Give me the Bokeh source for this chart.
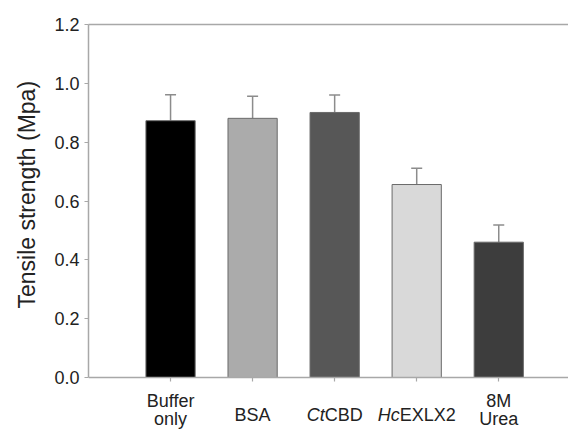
from bokeh.plotting import figure
from bokeh.models import (ColumnDataSource, Range1d, FixedTicker, LinearAxis,
                          NumeralTickFormatter, Whisker, TeeHead, Title)
from bokeh.core.properties import value
from bokeh.embed import file_html
from bokeh.resources import INLINE

# ---- data ----
categories = ["Buffer only", "BSA", "CtCBD", "HcEXLX2", "8M Urea"]
means = [0.873, 0.881, 0.901, 0.656, 0.460]
errors = [0.088, 0.075, 0.059, 0.055, 0.058]
bar_colors = ["#000000", "#ababab", "#575757", "#d9d9d9", "#3d3d3d"]
y_ticks = [0.0, 0.2, 0.4, 0.6, 0.8, 1.0, 1.2]
y_title = "Tensile strength (Mpa)"
# x label pieces per category: list of lines, each (italic part, normal part)
label_lines = [
    [("", "Buffer"), ("", "only")],
    [("", "BSA")],
    [("Ct", "CBD")],
    [("Hc", "EXLX2")],
    [("", "8M"), ("", "Urea")],
]

xs = list(range(len(categories)))
upper = [m + e for m, e in zip(means, errors)]
src = ColumnDataSource(dict(x=xs, top=means, upper=upper, color=bar_colors))

AX = "#a8a8a8"
TXT = "#222222"
FONT = "Liberation Sans"

W, H = 568, 429
LEFT, TOP = 87, 24
ZERO_PX = 377            # pixel row of y = 0
Y_MAX = 1.2
px_per_unit = (ZERO_PX - TOP) / Y_MAX
y_start = -(H - ZERO_PX) / px_per_unit

p = figure(width=W, height=H, output_backend="svg", toolbar_location=None,
           x_range=Range1d(-1.0, 4.85), y_range=Range1d(y_start, Y_MAX),
           min_border_left=LEFT, min_border_right=0, min_border_top=TOP,
           min_border_bottom=0, outline_line_color=None)
p.grid.visible = False

p.vbar(x="x", top="top", width=0.6, bottom=0, fill_color="color",
       line_color="#6a6a6a", line_width=1, source=src)

w = Whisker(base="x", lower="top", upper="upper", source=src,
            line_color="#8c8c8c", line_width=1.5, lower_head=None,
            upper_head=TeeHead(size=11, line_color="#8c8c8c", line_width=1.5))
p.add_layout(w)

# y axis
ya = p.yaxis[0]
ya.bounds = (0, Y_MAX)
ya.ticker = FixedTicker(ticks=y_ticks)
ya.formatter = NumeralTickFormatter(format="0.0")
ya.axis_line_color = AX
ya.axis_line_width = 1.5
ya.major_tick_line_color = AX
ya.major_tick_line_width = 1.2
ya.major_tick_in = 0
ya.major_tick_out = 4
ya.minor_tick_line_color = None
ya.major_label_text_font = FONT
ya.major_label_text_font_size = "18px"
ya.major_label_text_color = TXT
ya.major_label_standoff = 5

# y title on the left, starting from the bottom of the frame plus an offset
p.add_layout(Title(text=y_title, align="left", offset=(H - ZERO_PX) + 69,
                   text_font=FONT, text_font_size="23px",
                   text_font_style="normal", text_color=TXT, standoff=23),
             "left")

# x axis drawn at y = 0 inside the frame
xa = p.xaxis[0]
xa.fixed_location = 0
xa.ticker = FixedTicker(ticks=xs)
xa.major_label_overrides = {i: " " for i in xs}
xa.major_label_text_font_size = "1px"
xa.axis_line_color = AX
xa.axis_line_width = 1.5
xa.major_tick_line_color = AX
xa.major_tick_line_width = 1.2
xa.major_tick_in = 0
xa.major_tick_out = 4
xa.minor_tick_line_color = None

# top line
top_axis = LinearAxis(ticker=FixedTicker(ticks=[]), axis_line_color=AX,
                      axis_line_width=1.5, major_label_text_font_size="1px",
                      major_tick_line_color=None, minor_tick_line_color=None)
p.add_layout(top_axis, "above")

# x category labels as real text, with italic prefixes
FS = 18
ARIAL = {"C": .722, "t": .278, "B": .667, "D": .722, "H": .722, "c": .5,
         "E": .667, "X": .667, "L": .556, "2": .556}
def width_px(s):
    return sum(ARIAL.get(ch, .6) for ch in s) * FS

baselines_two = [23, 41]
baseline_one = 37
it_x, it_t, it_off, it_y = [], [], [], []
nm_x, nm_t, nm_off, nm_y, nm_align = [], [], [], [], []
for i, lines in enumerate(label_lines):
    for j, (ital, norm) in enumerate(lines):
        yo = baseline_one if len(lines) == 1 else baselines_two[j]
        if ital:
            split = (width_px(ital) - width_px(norm)) / 2.0
            it_x.append(i); it_t.append(ital); it_off.append(split); it_y.append(yo)
            nm_x.append(i); nm_t.append(norm); nm_off.append(split); nm_y.append(yo)
            nm_align.append("left")
        else:
            nm_x.append(i); nm_t.append(norm); nm_off.append(0); nm_y.append(yo)
            nm_align.append("center")

nsrc = ColumnDataSource(dict(x=nm_x, y=[0] * len(nm_x), text=nm_t, xo=nm_off,
                             yo=nm_y, align=nm_align))
isrc = ColumnDataSource(dict(x=it_x, y=[0] * len(it_x), text=it_t, xo=it_off,
                             yo=it_y))
p.text(x="x", y="y", text="text", x_offset="xo", y_offset="yo",
       text_align="align", text_baseline="alphabetic", text_font=value(FONT),
       text_font_size=f"{FS}px", text_color=TXT, source=nsrc)
p.text(x="x", y="y", text="text", x_offset="xo", y_offset="yo",
       text_align="right", text_baseline="alphabetic", text_font=value(FONT),
       text_font_size=f"{FS}px", text_font_style="italic", text_color=TXT,
       source=isrc)

open("out.html", "w").write(file_html(p, INLINE))
